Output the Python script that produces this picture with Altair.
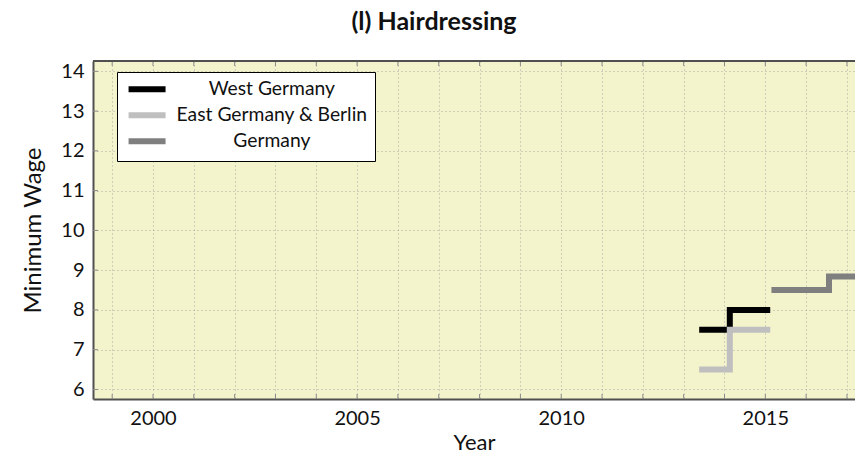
import altair as alt
import pandas as pd

series_names = ["West Germany", "East Germany & Berlin", "Germany"]
series_colors = ["#000000", "#bfbfbf", "#7f7f7f"]

west_years = [2013.38, 2014.13, 2015.12]
west_wage = [7.5, 8.0, 8.0]
east_years = [2013.38, 2014.13, 2015.12]
east_wage = [6.5, 7.5, 7.5]
germany_years = [2015.15, 2016.56, 2017.6]
germany_wage = [8.5, 8.84, 8.84]

x_ticks = list(range(1999, 2018))
y_ticks = list(range(6, 15))

FONT = "Lato"
W, H = 762, 338
X_DOMAIN = [1998.53, 2017.197]
Y_DOMAIN = [5.76, 14.26]

rows = []
for name, xs, ys in [(series_names[0], west_years, west_wage),
                     (series_names[1], east_years, east_wage),
                     (series_names[2], germany_years, germany_wage)]:
    for i, (a, b) in enumerate(zip(xs, ys)):
        rows.append({"series": name, "year": a, "wage": b, "order": i})
df = pd.DataFrame(rows)

xscale = alt.Scale(domain=X_DOMAIN, nice=False, zero=False)
yscale = alt.Scale(domain=Y_DOMAIN, nice=False, zero=False)

lines = alt.Chart(df).mark_line(
    interpolate="step-after", strokeWidth=6, strokeCap="butt", clip=True
).encode(
    x=alt.X("year:Q", scale=xscale, title="Year",
            axis=alt.Axis(values=x_ticks, format="d",
                          labelExpr="datum.value % 5 === 0 ? datum.label : ''",
                          ticks=False, grid=True, domain=True,
                          labelPadding=9, titlePadding=4)),
    y=alt.Y("wage:Q", scale=yscale, title="Minimum Wage",
            axis=alt.Axis(values=y_ticks, format="d", ticks=False, grid=True,
                          domain=True, labelPadding=9, titlePadding=15)),
    color=alt.Color("series:N",
                    scale=alt.Scale(domain=series_names, range=series_colors),
                    legend=alt.Legend(
                        title=None, orient="none", legendX=24, legendY=11,
                        fillColor="white", strokeColor="black", padding=7.5,
                        symbolType="M-1.24,0H6.98", symbolSize=81,
                        symbolStrokeWidth=6, rowPadding=1,
                        labelAlign="center", labelOffset=128,
                        labelFontSize=19.3, labelFont=FONT, labelColor="#111",
                        labelLimit=400)),
    order="order:Q",
    detail="series:N",
)

xt = pd.DataFrame({"year": x_ticks})
yt = pd.DataFrame({"wage": y_ticks})
tick_color = "#8a8a8a"
bottom_ticks = alt.Chart(xt).mark_rule(color=tick_color, strokeWidth=1).encode(
    x=alt.X("year:Q", scale=xscale), y=alt.value(H), y2=alt.value(H - 5))
top_ticks = alt.Chart(xt).mark_rule(color=tick_color, strokeWidth=1).encode(
    x=alt.X("year:Q", scale=xscale), y=alt.value(0), y2=alt.value(5))
left_ticks = alt.Chart(yt).mark_rule(color=tick_color, strokeWidth=1).encode(
    y=alt.Y("wage:Q", scale=yscale), x=alt.value(0), x2=alt.value(5))
top_border = alt.Chart(xt).mark_rule(color="#505050", strokeWidth=2).encode(
    x=alt.value(0), x2=alt.value(W), y=alt.value(0))

chart = alt.layer(bottom_ticks, top_ticks, left_ticks, lines, top_border).properties(
    width=W, height=H,
    autosize=alt.AutoSizeParams(type="none"),
    padding={"left": 85, "top": 53, "right": 0, "bottom": 54},
    title=alt.TitleParams("(l) Hairdressing", font=FONT, fontSize=25,
                          fontWeight="bold", color="#111", anchor="middle",
                          dx=-40, offset=25),
).configure_view(
    fill="#f3f4cc", stroke=None
).configure_axis(
    labelFont=FONT, titleFont=FONT, labelFontSize=20, titleFontSize=22,
    labelColor="#111", titleColor="#111", titleFontWeight="normal",
    gridColor="#a8a8a8", gridDash=[1, 3], gridWidth=1, gridOpacity=1,
    domainColor="#505050", domainWidth=2,
).configure_axisY(titleFontSize=24)

chart.save("out.html", embed_options={"renderer": "svg", "actions": False})
